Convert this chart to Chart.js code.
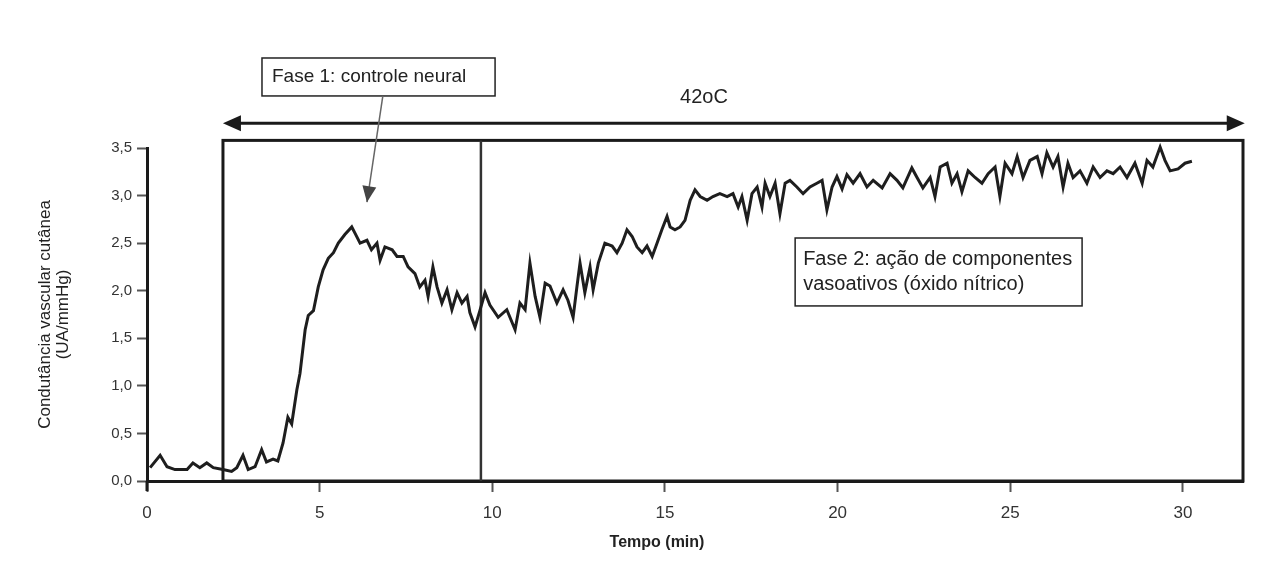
<!DOCTYPE html>
<html lang="pt">
<head>
<meta charset="utf-8">
<title>Condutância vascular cutânea</title>
<script src="https://cdn.jsdelivr.net/npm/chart.js@4/dist/chart.umd.min.js"></script>
<style>
  html, body { margin: 0; padding: 0; background: #fff; overflow: hidden; }
  #wrap { width: 1273px; height: 578px; position: relative; }
</style>
</head>
<body>
<div id="wrap"><canvas id="cvc-chart"></canvas></div>
<script>
const timeMin = [
  0.09, 0.38, 0.58, 0.81, 1.16, 1.33, 1.53, 1.73, 1.92, 2.20,
  2.45, 2.60, 2.78, 2.93, 3.13, 3.32, 3.46, 3.65, 3.79, 3.94,
  4.08, 4.19, 4.34, 4.43, 4.58, 4.67, 4.82, 4.96, 5.10, 5.25,
  5.40, 5.54, 5.73, 5.93, 6.03, 6.17, 6.37, 6.50, 6.66, 6.75,
  6.89, 7.10, 7.24, 7.42, 7.56, 7.76, 7.90, 8.05, 8.14, 8.28,
  8.40, 8.54, 8.69, 8.83, 8.98, 9.12, 9.27, 9.35, 9.50, 9.64,
  9.79, 9.93, 10.17, 10.42, 10.66, 10.80, 10.95, 11.09, 11.24, 11.38,
  11.53, 11.67, 11.87, 12.05, 12.19, 12.34, 12.45, 12.54, 12.68, 12.83,
  12.92, 13.07, 13.26, 13.47, 13.61, 13.76, 13.90, 14.05, 14.19, 14.34,
  14.48, 14.63, 14.77, 14.91, 15.06, 15.15, 15.29, 15.44, 15.58, 15.73,
  15.87, 16.02, 16.22, 16.39, 16.59, 16.80, 16.97, 17.12, 17.23, 17.38,
  17.52, 17.67, 17.81, 17.90, 18.04, 18.19, 18.33, 18.48, 18.62, 18.82,
  19.00, 19.20, 19.40, 19.55, 19.69, 19.84, 19.98, 20.13, 20.27, 20.45,
  20.65, 20.85, 21.03, 21.29, 21.52, 21.72, 21.89, 22.15, 22.30, 22.47,
  22.68, 22.82, 22.97, 23.17, 23.31, 23.46, 23.60, 23.78, 23.98, 24.18,
  24.36, 24.56, 24.70, 24.85, 25.05, 25.20, 25.37, 25.57, 25.78, 25.92,
  26.06, 26.24, 26.38, 26.53, 26.67, 26.82, 27.02, 27.22, 27.40, 27.60,
  27.80, 27.98, 28.18, 28.38, 28.61, 28.82, 28.96, 29.13, 29.34, 29.48,
  29.63, 29.86, 30.06, 30.26
];
const conductance = [
  0.14, 0.27, 0.15, 0.12, 0.12, 0.19, 0.14, 0.19, 0.14, 0.12,
  0.10, 0.14, 0.27, 0.12, 0.15, 0.33, 0.20, 0.23, 0.21, 0.40,
  0.67, 0.60, 0.96, 1.13, 1.59, 1.74, 1.79, 2.04, 2.22, 2.34,
  2.40, 2.50, 2.59, 2.67, 2.60, 2.50, 2.53, 2.43, 2.50, 2.32,
  2.46, 2.43, 2.36, 2.36, 2.25, 2.18, 2.04, 2.11, 1.94, 2.25,
  2.04, 1.87, 2.01, 1.80, 1.98, 1.87, 1.94, 1.77, 1.62, 1.79,
  1.98, 1.85, 1.72, 1.80, 1.59, 1.87, 1.80, 2.29, 1.94, 1.72,
  2.08, 2.05, 1.87, 2.01, 1.90, 1.72, 2.04, 2.29, 1.98, 2.25,
  2.01, 2.29, 2.50, 2.47, 2.40, 2.50, 2.64, 2.57, 2.46, 2.40,
  2.47, 2.36, 2.50, 2.64, 2.78, 2.67, 2.64, 2.67, 2.74, 2.95,
  3.06, 2.99, 2.95, 2.99, 3.02, 2.99, 3.02, 2.88, 2.99, 2.74,
  3.02, 3.09, 2.88, 3.13, 2.99, 3.13, 2.81, 3.13, 3.16, 3.09,
  3.02, 3.09, 3.13, 3.16, 2.85, 3.09, 3.20, 3.07, 3.22, 3.13,
  3.23, 3.09, 3.16, 3.08, 3.23, 3.16, 3.08, 3.29, 3.19, 3.08,
  3.19, 2.99, 3.30, 3.34, 3.13, 3.23, 3.04, 3.26, 3.19, 3.13,
  3.23, 3.30, 2.99, 3.34, 3.23, 3.41, 3.19, 3.37, 3.41, 3.23,
  3.45, 3.30, 3.41, 3.09, 3.34, 3.19, 3.26, 3.13, 3.30, 3.19,
  3.26, 3.23, 3.30, 3.19, 3.34, 3.13, 3.37, 3.30, 3.51, 3.37,
  3.26, 3.28, 3.34, 3.36
];

const xTicks = [0, 5, 10, 15, 20, 25, 30];
const yTicks = [0, 0.5, 1.0, 1.5, 2.0, 2.5, 3.0, 3.5];
const yTickLabels = ['0,0', '0,5', '1,0', '1,5', '2,0', '2,5', '3,0', '3,5'];
const xMax = 31.74;

// Anotações (em unidades dos eixos)
const heatStart = 2.2;      // início do aquecimento a 42oC
const heatEnd = 31.74;
const heatBoxTop = 3.58;
const heatArrowY = 3.76;
const phaseSplit = 9.67;    // fase 1 -> fase 2
const heatLabel = '42oC';
const phase1Label = 'Fase 1: controle neural';
const phase2Label = ['Fase 2: ação de componentes', 'vasoativos (óxido nítrico)'];

const FONT = "'Liberation Sans', Arial, Helvetica, sans-serif";
const INK = '#1a1a1a';

function arrowHead(ctx, x1, y1, x2, y2, len, half) {
    const a = Math.atan2(y2 - y1, x2 - x1);
    ctx.beginPath();
    ctx.moveTo(x2, y2);
    ctx.lineTo(x2 - len * Math.cos(a) + half * Math.sin(a), y2 - len * Math.sin(a) - half * Math.cos(a));
    ctx.lineTo(x2 - len * Math.cos(a) - half * Math.sin(a), y2 - len * Math.sin(a) + half * Math.cos(a));
    ctx.closePath();
    ctx.fill();
}

const phasePlugin = {
    id: 'phaseAnnotations',
    beforeDatasetsDraw(chart) {
        const { ctx, scales: { x, y } } = chart;
        const px = v => x.getPixelForValue(v);
        const py = v => y.getPixelForValue(v);
        ctx.save();
        // caixa do período de aquecimento
        ctx.strokeStyle = INK;
        ctx.lineWidth = 3;
        ctx.strokeRect(px(heatStart), py(heatBoxTop), px(heatEnd) - px(heatStart), py(0) - py(heatBoxTop));
        // divisão entre fases
        ctx.strokeStyle = '#333';
        ctx.lineWidth = 2.5;
        ctx.beginPath();
        ctx.moveTo(px(phaseSplit), py(heatBoxTop));
        ctx.lineTo(px(phaseSplit), py(0));
        ctx.stroke();
        // eixo y prolongado abaixo do zero
        ctx.strokeStyle = INK;
        ctx.lineWidth = 3;
        ctx.beginPath();
        ctx.moveTo(px(0), py(0));
        ctx.lineTo(px(0), py(0) + 10);
        ctx.stroke();
        ctx.restore();
    },
    afterDraw(chart) {
        const { ctx, scales: { x, y } } = chart;
        const px = v => x.getPixelForValue(v);
        const py = v => y.getPixelForValue(v);
        ctx.save();

        // seta dupla 42oC
        const ax1 = px(heatStart), ax2 = px(heatEnd + 0.05), ay = py(heatArrowY);
        ctx.strokeStyle = INK;
        ctx.fillStyle = INK;
        ctx.lineWidth = 3;
        ctx.beginPath();
        ctx.moveTo(ax1 + 8, ay);
        ctx.lineTo(ax2 - 8, ay);
        ctx.stroke();
        arrowHead(ctx, ax2, ay, ax1, ay, 18, 8);
        arrowHead(ctx, ax1, ay, ax2, ay, 18, 8);
        ctx.font = '20px ' + FONT;
        ctx.textAlign = 'center';
        ctx.textBaseline = 'middle';
        ctx.fillStyle = '#222';
        ctx.fillText(heatLabel, px(16.13), py(4.03));

        // caixa Fase 1
        const b1x = px(3.33), b1y = py(4.446), b1w = px(10.08) - px(3.33), b1h = py(4.047) - py(4.446);
        ctx.fillStyle = '#fff';
        ctx.fillRect(b1x, b1y, b1w, b1h);
        ctx.strokeStyle = '#222';
        ctx.lineWidth = 1.5;
        ctx.strokeRect(b1x, b1y, b1w, b1h);
        ctx.fillStyle = '#222';
        ctx.textAlign = 'left';
        ctx.font = '19px ' + FONT;
        ctx.fillText(phase1Label, b1x + 10, b1y + b1h / 2);

        // seta da Fase 1
        const s1x = px(6.83), s1y = py(4.047), s2x = px(6.37), s2y = py(2.93);
        ctx.strokeStyle = '#666';
        ctx.lineWidth = 1.5;
        ctx.beginPath();
        ctx.moveTo(s1x, s1y);
        ctx.lineTo(s2x, s2y);
        ctx.stroke();
        ctx.fillStyle = '#444';
        arrowHead(ctx, s1x, s1y, s2x, s2y, 16, 7);

        // caixa Fase 2
        const b2x = px(18.77), b2y = py(2.554), b2w = px(27.08) - px(18.77), b2h = py(1.84) - py(2.554);
        ctx.fillStyle = '#fff';
        ctx.fillRect(b2x, b2y, b2w, b2h);
        ctx.strokeStyle = '#222';
        ctx.lineWidth = 1.5;
        ctx.strokeRect(b2x, b2y, b2w, b2h);
        ctx.fillStyle = '#222';
        ctx.font = '20px ' + FONT;
        ctx.fillText(phase2Label[0], b2x + 8, b2y + 21);
        ctx.fillText(phase2Label[1], b2x + 8, b2y + 46);

        // título do eixo x
        ctx.textAlign = 'center';
        ctx.font = 'bold 16px ' + FONT;
        ctx.fillStyle = '#222';
        ctx.fillText('Tempo (min)', px(14.77), py(-0.65));

        ctx.restore();
    }
};

const points = timeMin.map((t, i) => ({ x: t, y: conductance[i] }));

new Chart(document.getElementById('cvc-chart'), {
    type: 'line',
    data: {
        datasets: [{
            label: 'Condutância vascular cutânea',
            data: points,
            borderColor: '#1e1e1e',
            borderWidth: 3,
            pointRadius: 0,
            tension: 0,
            fill: false,
            clip: false
        }]
    },
    options: {
        responsive: true,
        maintainAspectRatio: false,
        animation: false,
        layout: { padding: { top: 148, right: 30, bottom: 0, left: 0 } },
        plugins: {
            legend: { display: false },
            tooltip: { enabled: false }
        },
        scales: {
            x: {
                type: 'linear',
                min: 0,
                max: xMax,
                afterBuildTicks: scale => { scale.ticks = xTicks.map(v => ({ value: v })); },
                afterFit: scale => { scale.height = 97; },
                border: { display: true, color: INK, width: 3 },
                grid: {
                    drawOnChartArea: false,
                    drawTicks: true,
                    tickLength: 11,
                    tickWidth: 2,
                    tickColor: '#555'
                },
                ticks: {
                    padding: 11,
                    color: '#333',
                    font: { family: FONT, size: 17 },
                    maxRotation: 0,
                    callback: v => String(v)
                }
            },
            y: {
                min: 0,
                max: 3.5,
                afterBuildTicks: scale => { scale.ticks = yTicks.map(v => ({ value: v })); },
                afterFit: scale => { scale.width = 147; },
                border: { display: true, color: INK, width: 3 },
                grid: {
                    drawOnChartArea: false,
                    drawTicks: true,
                    tickLength: 10,
                    tickWidth: 2,
                    tickColor: '#555'
                },
                ticks: {
                    padding: 5,
                    color: '#333',
                    font: { family: FONT, size: 15 },
                    callback: (v, i) => yTickLabels[i]
                },
                title: {
                    display: true,
                    text: ['Condutância vascular cutânea', '(UA/mmHg)'],
                    color: '#222',
                    font: { family: FONT, size: 17, weight: 'normal', lineHeight: 1.08 },
                    padding: { top: 36, bottom: 0 }
                }
            }
        }
    },
    plugins: [phasePlugin]
});
</script>
</body>
</html>
